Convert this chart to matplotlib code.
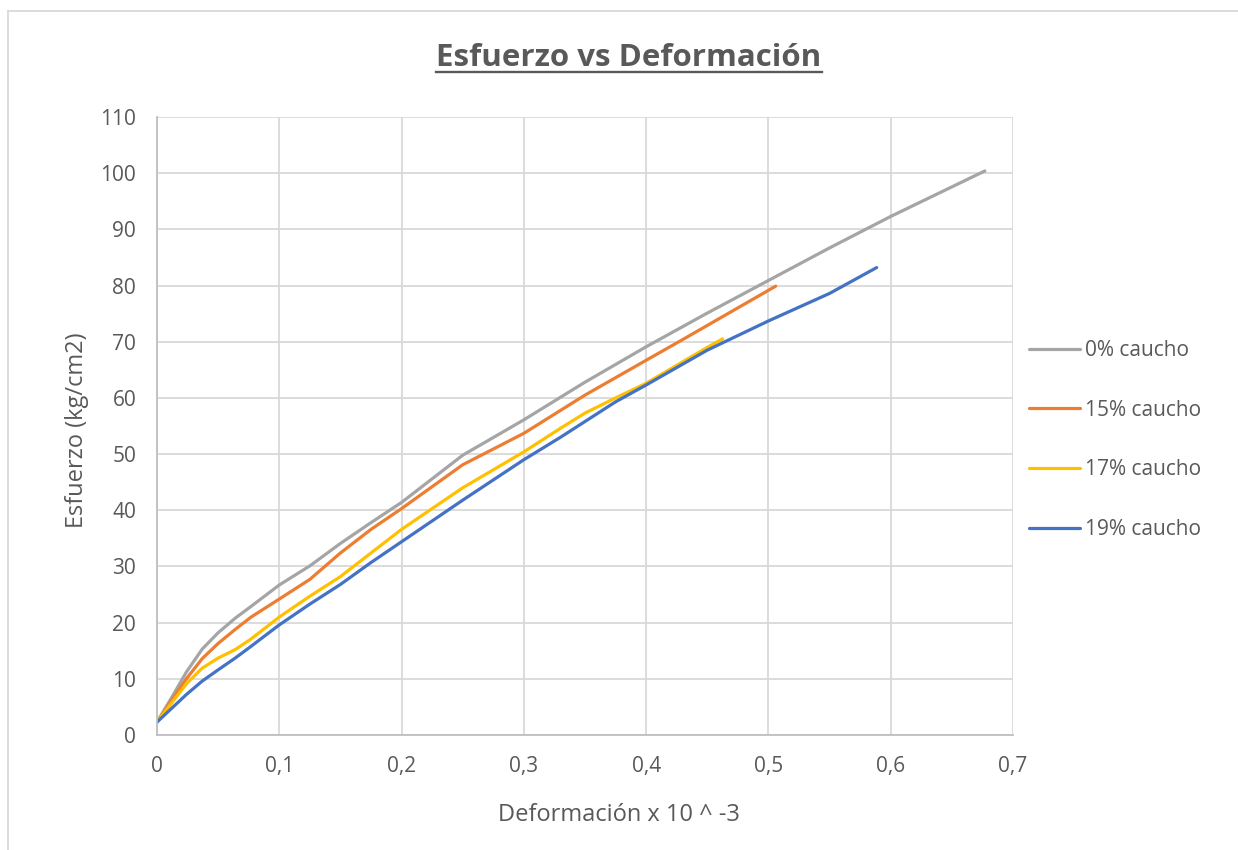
import matplotlib
matplotlib.use("Agg")
import matplotlib.pyplot as plt
from matplotlib.lines import Line2D

# ---- data ----
x_0 = [0, 0.011, 0.024, 0.037, 0.05, 0.064, 0.077, 0.1, 0.125, 0.15, 0.175, 0.2, 0.25, 0.3,
       0.35, 0.4, 0.45, 0.5, 0.55, 0.6, 0.677]
y_0 = [2.3, 6.3, 11.2, 15.3, 18.2, 20.8, 22.9, 26.7, 30.1, 34.1, 37.8, 41.4, 49.8, 56.1,
       62.8, 69.1, 75.1, 80.9, 86.7, 92.3, 100.4]

x_15 = [0, 0.024, 0.037, 0.05, 0.064, 0.077, 0.1, 0.125, 0.15, 0.175, 0.2, 0.25, 0.3,
        0.35, 0.4, 0.43, 0.45, 0.506]
y_15 = [2.3, 10.0, 13.6, 16.3, 18.8, 21.0, 24.2, 27.7, 32.4, 36.6, 40.3, 48.1, 53.7,
        60.5, 66.7, 70.4, 72.9, 79.9]

x_17 = [0, 0.024, 0.037, 0.05, 0.064, 0.077, 0.1, 0.125, 0.15, 0.175, 0.2, 0.25, 0.3,
        0.33, 0.35, 0.375, 0.4, 0.45, 0.4625]
y_17 = [2.3, 9.1, 11.9, 13.7, 15.2, 17.1, 21.0, 24.7, 28.2, 32.4, 36.6, 44.0, 50.4,
        54.6, 57.3, 60.0, 62.6, 69.0, 70.5]

x_19 = [0, 0.024, 0.037, 0.05, 0.064, 0.077, 0.1, 0.125, 0.15, 0.175, 0.2, 0.25, 0.3,
        0.33, 0.35, 0.375, 0.4, 0.45, 0.5, 0.55, 0.5885]
y_19 = [2.3, 7.2, 9.6, 11.6, 13.7, 15.8, 19.6, 23.3, 26.8, 30.7, 34.4, 41.8, 49.0,
        53.0, 55.8, 59.3, 62.3, 68.5, 73.7, 78.6, 83.2]

labels = ["0% caucho", "15% caucho", "17% caucho", "19% caucho"]
colors = ["#A5A5A5", "#ED7D31", "#FFC000", "#4472C4"]

x_ticks = [0, 0.1, 0.2, 0.3, 0.4, 0.5, 0.6, 0.7]
x_ticklabels = ["0", "0,1", "0,2", "0,3", "0,4", "0,5", "0,6", "0,7"]
y_ticks = list(range(0, 111, 10))

title = "Esfuerzo vs Deformación"
xlabel = "Deformación x 10 ^ -3"
ylabel = "Esfuerzo (kg/cm2)"

# ---- style ----
plt.rcParams['font.family'] = ['Open Sans', 'DejaVu Sans']
txt = "#595959"
W_PX, H_PX = 1238, 850

fig = plt.figure(figsize=(12.38, 8.5), dpi=100)
ax = fig.add_axes([157/W_PX, 115/H_PX, (1013-157)/W_PX, (735-117)/H_PX])

series = [(x_0, y_0), (x_15, y_15), (x_17, y_17), (x_19, y_19)]
for (xs, ys), lab, c in zip(series, labels, colors):
    ax.plot(xs, ys, color=c, lw=2.3, label=lab, solid_capstyle='round', solid_joinstyle='round')

ax.set_xlim(0, 0.7)
ax.set_ylim(0, 110)
ax.set_xticks(x_ticks)
ax.set_xticklabels(x_ticklabels)
ax.set_yticks(y_ticks)
ax.grid(True, color="#D9D9D9", lw=1.3)
ax.set_axisbelow(True)
for s in ["top", "right"]:
    ax.spines[s].set_visible(False)
for s in ["left", "bottom"]:
    ax.spines[s].set_color("#BFBFBF")
    ax.spines[s].set_linewidth(1.3)
ax.tick_params(length=0, labelsize=15, colors=txt)
ax.tick_params(axis='x', pad=15)
ax.tick_params(axis='y', pad=15)

fig.text(619/W_PX, 1 - 821/H_PX, xlabel, ha="center", va="baseline", fontsize=17, color=txt)
fig.text(77/W_PX, 1 - 430/H_PX, ylabel, ha="center", va="center", rotation=90, fontsize=17, color=txt)

leg = fig.legend(loc="center left", bbox_to_anchor=(1029/W_PX, 1 - 440/H_PX), frameon=False,
                 fontsize=15, labelcolor=txt, handlelength=2.45, handletextpad=0.25,
                 labelspacing=1.86, borderpad=0, borderaxespad=0)

t = fig.text(629/W_PX, 1 - 66.5/H_PX, title, ha="center", va="baseline", fontsize=22.5,
             fontweight="bold", color=txt)

# chart border (left and top visible)
fig.add_artist(Line2D([8/W_PX, 8/W_PX], [0, 1 - 11/H_PX], color="#D9D9D9", lw=1.3, transform=fig.transFigure))
fig.add_artist(Line2D([8/W_PX, 1.0], [1 - 11/H_PX, 1 - 11/H_PX], color="#D9D9D9", lw=1.3, transform=fig.transFigure))

# underline title
fig.canvas.draw()
bb = t.get_window_extent(renderer=fig.canvas.get_renderer())
W, H = fig.bbox.width, fig.bbox.height
uy = 1 - 71.7/H_PX
fig.add_artist(Line2D([bb.x0 / W, bb.x1 / W], [uy, uy], color=txt, lw=1.7, transform=fig.transFigure))

fig.savefig("out.png", dpi=100)
